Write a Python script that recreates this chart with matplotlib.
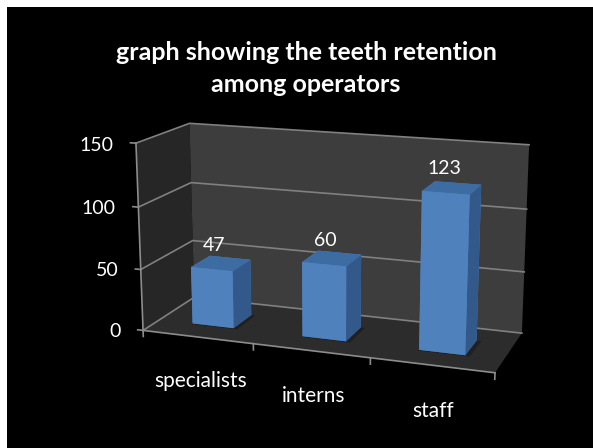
import numpy as np
import matplotlib
matplotlib.use("Agg")
import matplotlib.pyplot as plt
from matplotlib.patches import Rectangle
from mpl_toolkits.mplot3d.art3d import Poly3DCollection

categories = ["specialists", "interns", "staff"]
values = [47, 60, 123]
z_ticks = [0, 50, 100, 150]

W, H = 593, 448
plt.rcParams["font.family"] = ["Lato", "DejaVu Sans"]

fig = plt.figure(figsize=(W / 100, H / 100), dpi=100, facecolor="white")
# black chart area, the white strip is only left and top
fig.add_artist(Rectangle((7 / W, 0), 1 - 7 / W, 1 - 7 / H, transform=fig.transFigure,
                         facecolor="black", edgecolor="none", zorder=-5))

ax = fig.add_axes([0.1965, -0.0156, 0.9362 * H / W, 0.9362], projection="3d", computed_zorder=False)
ax.set_xlim(0, len(categories))
ax.set_ylim(0, 1)
ax.set_zlim(z_ticks[0], z_ticks[-1])
ax.view_init(elev=14.7552, azim=-70.3592)
ax.set_proj_type("persp", focal_length=0.5877)
ax.set_box_aspect((1.8864, 0.6264, 1))
ax.set_xticks([])
ax.set_yticks([])
ax.set_zticks([])
ax.set_axis_off()
ax.patch.set_visible(False)
# the unused axis texts stay out of the way
for axis in (ax.xaxis, ax.yaxis, ax.zaxis):
    axis.set_visible(False)
    axis.label.set_visible(False)
    axis.offsetText.set_visible(False)

nx = len(categories)
zmax = z_ticks[-1]

# walls and floor
walls = [
    ([[0, 0, 0], [0, 1, 0], [0, 1, zmax], [0, 0, zmax]], "#262626"),
    ([[0, 1, 0], [nx, 1, 0], [nx, 1, zmax], [0, 1, zmax]], "#3d3d3d"),
    ([[0, 0, 0], [nx, 0, 0], [nx, 1, 0], [0, 1, 0]], "#2c2c2c"),
]
for verts, col in walls:
    ax.add_collection3d(Poly3DCollection([verts], facecolors=col, edgecolors="none", zorder=1))

# gridlines on both walls
for z in z_ticks:
    ax.plot([0, 0, nx], [0, 1, 1], [z, z, z], color="#808080", lw=1.2, zorder=2)
    ax.plot([0, -0.05], [0, 0], [z, z], color="#8c8c8c", lw=1.2, zorder=2)
    ax.text(-0.21, 0, z - 3, str(z), color="white", fontsize=14, ha="right", va="center", zorder=6)

# axis lines
ax.plot([0, 0], [0, 0], [0, zmax], color="#8c8c8c", lw=1.2, zorder=2)
ax.plot([0, nx], [0, 0], [0, 0], color="#8c8c8c", lw=1.2, zorder=2)
for i in range(nx + 1):
    ax.plot([i, i], [0, 0], [0, -5], color="#8c8c8c", lw=1.2, zorder=2)

# bars, faces are -z +z -y +y -x +x
bar_w = 0.38
bar_d = 0.38
face_cols = ["#3a6596", "#3d6ca3", "#4f81bd", "#4f81bd", "#4f81bd", "#33598a"]
for i, v in enumerate(values):
    x0 = i + 0.5 - bar_w / 2
    y0 = 0.5 - bar_d / 2
    # soft shadow on the floor
    shadow = [[x0, y0 - 0.02, 0], [x0 + bar_w + 0.04, y0 - 0.02, 0],
              [x0 + bar_w + 0.04, y0 + bar_d, 0], [x0, y0 + bar_d, 0]]
    ax.add_collection3d(Poly3DCollection([shadow], facecolors="#202020", edgecolors="none", zorder=2.5))
    ax.bar3d(x0, y0, 0, bar_w, bar_d, v, color=face_cols,
             shade=False, edgecolor="none", zorder=3 + i * 0.1)
    ax.text(i + 0.44, 0.5, v + 14, str(v), color="white", fontsize=14, ha="center", va="center", zorder=6)
    ax.text(i + 0.52, 0, -36, categories[i], color="white", fontsize=15, ha="center", va="center", zorder=6)

fig.text(306 / W, 1 - 53 / H, "graph showing the teeth retention", color="white", fontsize=18,
         fontweight="bold", ha="center", va="center")
fig.text(306 / W, 1 - 85 / H, "among operators", color="white", fontsize=18,
         fontweight="bold", ha="center", va="center")

fig.savefig("out.png", dpi=100)
